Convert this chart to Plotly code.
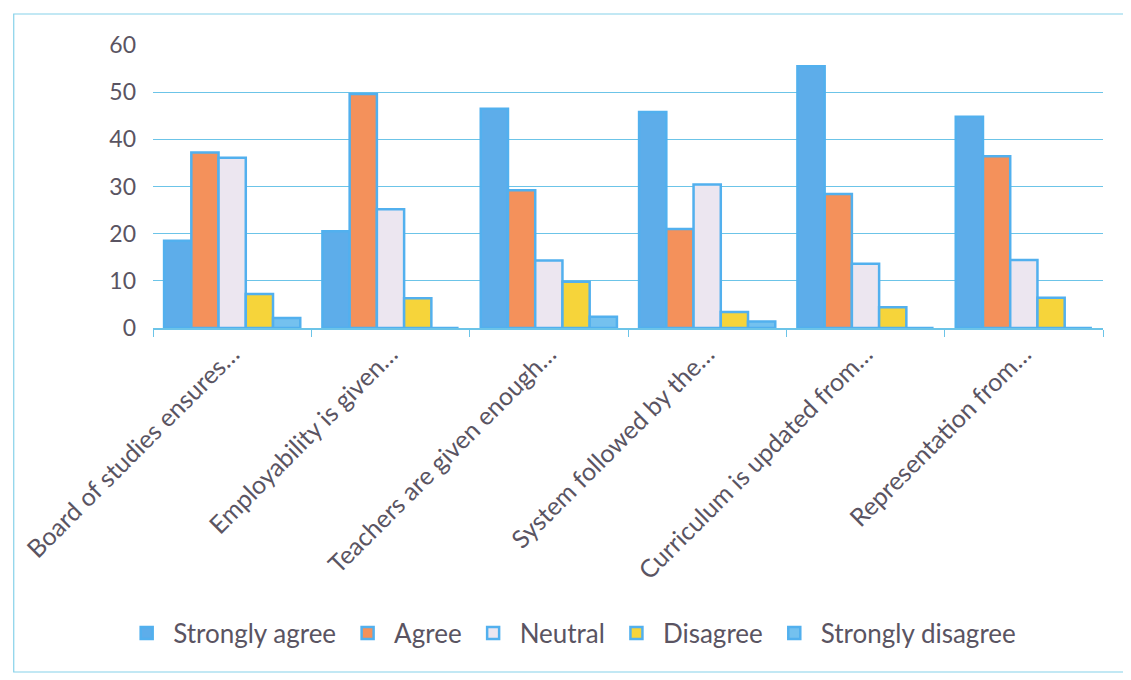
import plotly.graph_objects as go

categories = ["Board of studies ensures…", "Employability is given…", "Teachers are given enough…",
              "System followed by the…", "Curriculum is updated from…", "Representation from…"]
series_names = ["Strongly agree", "Agree", "Neutral", "Disagree", "Strongly disagree"]
strongly_agree = [18.5, 20.5, 46.5, 45.8, 55.5, 44.8]
agree = [37.2, 49.6, 29.2, 21.0, 28.4, 36.4]
neutral = [36.1, 25.2, 14.3, 30.4, 13.6, 14.4]
disagree = [7.2, 6.3, 9.8, 3.4, 4.4, 6.4]
strongly_disagree = [2.1, 0, 2.4, 1.4, 0, 0]
y_ticks = [0, 10, 20, 30, 40, 50, 60]

values = [strongly_agree, agree, neutral, disagree, strongly_disagree]
fills = ["#5dadea", "#f4915b", "#ece6f0", "#f6d43a", "#74c1ef"]
outline = "#52b0ee"

fig = go.Figure()
for name, vals, col in zip(series_names, values, fills):
    fig.add_trace(go.Bar(name=name, x=categories, y=vals,
                         marker=dict(color=col, line=dict(color=outline, width=2.5))))

font_col = "#5a5462"
W, H = 1123, 672
L, T, R, B = 140, 37, 28, 352
pw, ph = W - L - R, H - T - B
fig.update_layout(
    width=W, height=H,
    barmode="group", bargap=0.14, bargroupgap=0,
    paper_bgcolor="white", plot_bgcolor="white",
    margin=dict(l=L, r=R, t=T, b=B),
    font=dict(family="Lato, Carlito, sans-serif", size=24, color=font_col),
    showlegend=True,
    legend=dict(orientation="h", x=(107 - L) / pw, xanchor="left", y=-(625 - (H - B)) / ph, yanchor="middle",
                font=dict(size=26, color=font_col), itemwidth=43, traceorder="normal"),
    xaxis=dict(tickangle=-45, showgrid=False, showline=True, linecolor="#6cc4e8", linewidth=1.5,
               ticks="outside", tickson="boundaries", ticklen=7, tickcolor="#6cc4e8",
               tickfont=dict(size=25, color=font_col)),
    yaxis=dict(range=[0, 60], tickvals=y_ticks, showgrid=True, gridcolor="#6cc4e8", gridwidth=1,
               zeroline=False, showline=False, ticks="", ticklabelstandoff=16,
               tickfont=dict(size=23, color=font_col)),
)
fig.add_shape(type="rect", xref="paper", yref="paper",
              x0=(0 - L) / pw, x1=(1117 - L) / pw,
              y0=((H - B) - 664) / ph, y1=((H - B) - 6) / ph,
              line=dict(color="#86d2ea", width=1.2), fillcolor="rgba(0,0,0,0)", layer="below")
fig.write_html("out.html")
